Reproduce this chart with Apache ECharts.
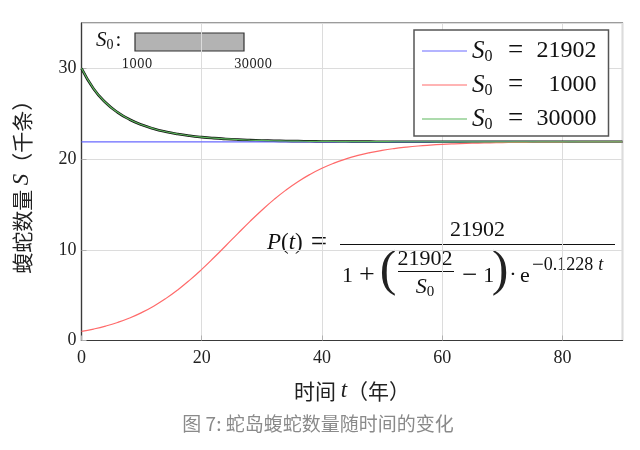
<!DOCTYPE html>
<html><head><meta charset="utf-8">
<script src="https://cdn.jsdelivr.net/npm/echarts@6/dist/echarts.min.js"></script>
<style>html,body{margin:0;padding:0;background:#fff}#c{width:640px;height:450px}</style>
</head><body><div id="c"></div>
<script>
// time in years
const years = [0,2,4,6,8,10,12,14,16,18,20,22,24,26,28,30,32,34,36,38,40,42,44,46,48,50,52,54,56,58,60,62,64,66,68,70,72,74,76,78,80,82,84,86,88,90];
// snake population (thousand), S0 = 21902
const blueVals = [21.902,21.902,21.902,21.902,21.902,21.902,21.902,21.902,21.902,21.902,21.902,21.902,21.902,21.902,21.902,21.902,21.902,21.902,21.902,21.902,21.902,21.902,21.902,21.902,21.902,21.902,21.902,21.902,21.902,21.902,21.902,21.902,21.902,21.902,21.902,21.902,21.902,21.902,21.902,21.902,21.902,21.902,21.902,21.902,21.902,21.902];
// S0 = 1000
const redVals = [1.000,1.262,1.588,1.990,2.482,3.076,3.784,4.616,5.573,6.654,7.842,9.117,10.445,11.788,13.106,14.361,15.526,16.576,17.505,18.305,18.986,19.552,20.018,20.401,20.711,20.961,21.159,21.314,21.441,21.538,21.617,21.678,21.727,21.765,21.794,21.818,21.836,21.850,21.862,21.870,21.877,21.883,21.887,21.890,21.893,21.895];
// S0 = 30000
const greenVals = [30.000,27.764,26.235,25.151,24.364,23.782,23.345,23.015,22.763,22.570,22.421,22.306,22.217,22.147,22.094,22.052,22.019,21.993,21.973,21.958,21.945,21.936,21.929,21.923,21.918,21.915,21.912,21.910,21.908,21.907,21.906,21.905,21.904,21.904,21.903,21.903,21.903,21.903,21.902,21.902,21.902,21.902,21.902,21.902,21.902,21.902];
const seriesNames = ['S0 = 21902','S0 = 1000','S0 = 30000'];
const legendNums = ['21902','1000','30000'];
const xTicks = {min:0, max:90, interval:20};
const yTicks = {min:0, max:35, interval:10};
const sliderLabels = ['1000','30000'];

const pair = (xs, ys) => xs.map((x,i)=>[x, ys[i]]);
const SERIF = 'Liberation Serif';
const CJK = 'Noto Sans CJK SC';

const chart = echarts.init(document.getElementById('c'), null, {renderer:'canvas'});
const lineSeries = (name, data, color, width, z) => ({
  name, type:'line', data, symbol:'none', smooth:true, z,
  lineStyle:{color, width}, itemStyle:{color}, animation:false
});
const option = {
  animation:false,
  grid:{left:81.5, right:17.5, top:23, bottom:109.5, show:true, borderColor:'#3a3a3a', borderWidth:1.2, backgroundColor:'transparent'},
  xAxis:{type:'value', min:xTicks.min, max:xTicks.max, interval:xTicks.interval,
    axisLine:{show:true, onZero:false, lineStyle:{color:'#3a3a3a', width:1.2}},
    axisTick:{show:true, inside:true, length:5, lineStyle:{color:'#b0b0b0'}},
    axisLabel:{showMaxLabel:false, color:'#222', fontFamily:SERIF, fontSize:18, margin:9},
    splitLine:{show:true, lineStyle:{color:'#dcdcdc', width:1}},
    name:'{c|时间 }{i|t}{c|（年）}', nameLocation:'middle', nameGap:39,
    nameTextStyle:{rich:{c:{fontFamily:CJK, fontSize:21, color:'#222'}, i:{fontFamily:SERIF, fontStyle:'italic', fontSize:23, color:'#222'}}}
  },
  yAxis:{type:'value', min:yTicks.min, max:yTicks.max, interval:yTicks.interval,
    axisLine:{show:true, lineStyle:{color:'#3a3a3a', width:1.2}},
    axisTick:{show:true, inside:true, length:5, lineStyle:{color:'#b0b0b0'}},
    axisLabel:{showMaxLabel:false, color:'#222', fontFamily:SERIF, fontSize:18, margin:5},
    splitLine:{show:true, lineStyle:{color:'#dcdcdc', width:1}},
    name:'{c|蝮蛇数量 }{i|S}{c|（千条）}', nameLocation:'middle', nameGap:48, nameRotate:90,
    nameTextStyle:{rich:{c:{fontFamily:CJK, fontSize:21, color:'#222'}, i:{fontFamily:SERIF, fontStyle:'italic', fontSize:23, color:'#222'}}}
  },
  legend:{
    orient:'vertical', left:414, top:30, data:seriesNames,
    backgroundColor:'#fff', borderColor:'#555', borderWidth:1.5, padding:[7,12,3,8],
    itemWidth:45, itemHeight:14, itemGap:6, icon:'path://M0,7 L45,7 L45,8 L0,8 Z',
    formatter: name => {
      const k = seriesNames.indexOf(name);
      return '{i|S}{s|0}{e|=}{n|' + legendNums[k] + '}';
    },
    textStyle:{fontFamily:SERIF, fontSize:24, color:'#111', lineHeight:28,
      rich:{
        i:{fontFamily:SERIF, fontStyle:'italic', fontSize:25, lineHeight:28, color:'#111'},
        s:{fontFamily:SERIF, fontSize:16, lineHeight:28, width:12, verticalAlign:'bottom', padding:[9,0,0,0], color:'#111'},
        e:{fontFamily:SERIF, fontSize:27, lineHeight:28, width:38, align:'center', color:'#111'},
        n:{fontFamily:SERIF, fontSize:24, lineHeight:28, width:62, align:'right', color:'#111'}
      }}
  },
  series:[
    lineSeries(seriesNames[0], pair(years, blueVals), '#6a6aff', 1.2, 3),
    lineSeries(seriesNames[1], pair(years, redVals), '#ff6a6a', 1.2, 3),
    lineSeries('__shadow', pair(years, greenVals), '#111', 2.6, 2),
    lineSeries(seriesNames[2], pair(years, greenVals), '#5cb85c', 1.2, 4)
  ],
  graphic:[
    // slider label
    {type:'text', left:96, top:30, style:{text:'{i|S}{s|0}{e|:}', rich:{
      i:{fontFamily:SERIF, fontStyle:'italic', fontSize:21, lineHeight:24},
      s:{fontFamily:SERIF, fontSize:14, lineHeight:24, verticalAlign:'bottom', padding:[7,0,0,0]},
      e:{fontFamily:SERIF, fontSize:21, lineHeight:24, padding:[0,0,0,2]}}, fill:'#111'}},
    {type:'rect', shape:{x:135, y:33, width:109, height:18}, style:{fill:'#b3b3b3', stroke:'#333', lineWidth:1.2}},
    {type:'text', x:137, y:65, style:{text:sliderLabels[0], font:'12px "DejaVu Serif"', fill:'#222', align:'center', verticalAlign:'middle'}},
    {type:'text', x:253, y:65, style:{text:sliderLabels[1], font:'12px "DejaVu Serif"', fill:'#222', align:'center', verticalAlign:'middle'}},
    // formula
    {type:'text', x:267, y:243, style:{text:'{i|P}{r|(}{i|t}{r|)}{e|=}', verticalAlign:'middle', fill:'#111', rich:{
      i:{fontFamily:SERIF, fontStyle:'italic', fontSize:23}, r:{fontFamily:SERIF, fontSize:23},
      e:{fontFamily:SERIF, fontSize:29, padding:[0,0,0,8]}}}},
    {type:'line', shape:{x1:340, y1:244.5, x2:615, y2:244.5}, style:{stroke:'#111', lineWidth:1}},
    {type:'text', x:477.5, y:230, style:{text:'21902', font:'22px "Liberation Serif"', fill:'#111', align:'center', verticalAlign:'middle'}},
    {type:'text', x:342, y:276, style:{text:'{r|1}{o|+}', verticalAlign:'middle', fill:'#111', rich:{
      r:{fontFamily:SERIF, fontSize:22}, o:{fontFamily:SERIF, fontSize:28, padding:[0,0,0,6]}}}},
    {type:'text', x:388, y:272, style:{text:'(', font:'50px "Liberation Serif"', fill:'#222', align:'center', verticalAlign:'middle'}},
    {type:'text', x:425, y:259, style:{text:'21902', font:'22px "Liberation Serif"', fill:'#111', align:'center', verticalAlign:'middle'}},
    {type:'line', shape:{x1:398, y1:271.5, x2:454, y2:271.5}, style:{stroke:'#111', lineWidth:1}},
    {type:'text', x:425, y:287, style:{text:'{i|S}{s|0}', align:'center', verticalAlign:'middle', fill:'#111', rich:{
      i:{fontFamily:SERIF, fontStyle:'italic', fontSize:22, lineHeight:26},
      s:{fontFamily:SERIF, fontSize:15, lineHeight:26, verticalAlign:'bottom', padding:[7,0,0,0]}}}},
    {type:'text', x:462, y:276, style:{text:'{o|−}{r|1}', verticalAlign:'middle', fill:'#111', rich:{
      o:{fontFamily:SERIF, fontSize:27}, r:{fontFamily:SERIF, fontSize:22, padding:[0,0,0,6]}}}},
    {type:'text', x:500, y:272, style:{text:')', font:'50px "Liberation Serif"', fill:'#222', align:'center', verticalAlign:'middle'}},
    {type:'text', x:513, y:275, style:{text:'·', font:'22px "Liberation Serif"', fill:'#111', align:'center', verticalAlign:'middle'}},
    {type:'text', x:520, y:276, style:{text:'e', font:'22px "Liberation Serif"', fill:'#111', align:'left', verticalAlign:'middle'}},
    {type:'text', x:532, y:265, style:{text:'{o|−}{r|0.1228}{i|t}', verticalAlign:'middle', fill:'#111', rich:{
      o:{fontFamily:SERIF, fontSize:21}, r:{fontFamily:SERIF, fontSize:18}, i:{fontFamily:SERIF, fontStyle:'italic', fontSize:18, padding:[0,0,0,5]}}}},
    // caption
    {type:'text', x:318, y:424, style:{text:'图 7: 蛇岛蝮蛇数量随时间的变化', font:'19px "Noto Sans CJK SC"', fill:'#8a8a8a', align:'center', verticalAlign:'middle'}}
  ]
};
chart.setOption(option);
</script>
</body></html>
